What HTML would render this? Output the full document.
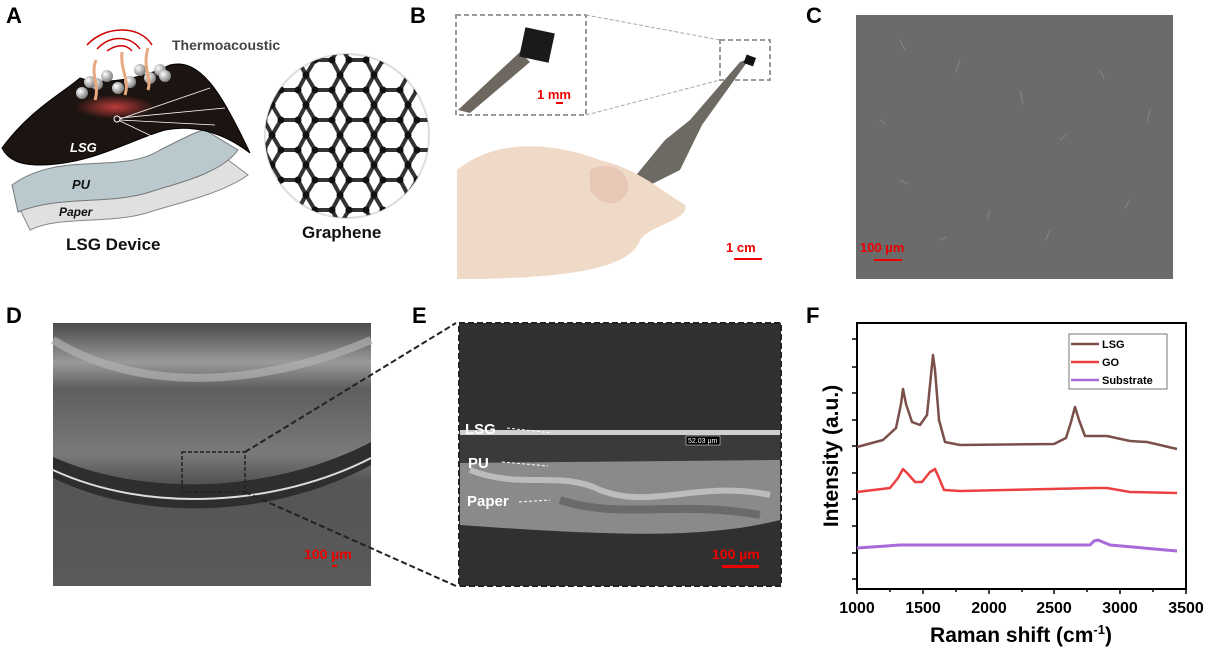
<!DOCTYPE html>
<html><head><meta charset="utf-8"><style>
html,body{margin:0;padding:0;background:#fff;}
svg{display:block;font-family:"Liberation Sans",Arial,sans-serif;}
</style></head><body>
<svg width="1208" height="651" viewBox="0 0 1208 651" xmlns="http://www.w3.org/2000/svg">
<defs>
<radialGradient id="glow" cx="0.5" cy="0.5" r="0.5"><stop offset="0" stop-color="#d04040" stop-opacity="0.9"/><stop offset="1" stop-color="#d04040" stop-opacity="0"/></radialGradient>
<radialGradient id="ball" cx="0.35" cy="0.35" r="0.7"><stop offset="0" stop-color="#fff"/><stop offset="1" stop-color="#777"/></radialGradient>
<linearGradient id="dg" x1="0" y1="0" x2="0" y2="1"><stop offset="0" stop-color="#4a4a4a"/><stop offset="0.15" stop-color="#9a9a9a"/><stop offset="0.25" stop-color="#5e5e5e"/><stop offset="0.5" stop-color="#7a7a7a"/><stop offset="0.6" stop-color="#555"/><stop offset="1" stop-color="#5a5a5a"/></linearGradient>
<pattern id="hex" width="34" height="30" patternUnits="userSpaceOnUse"><path d="M0,15 L9,0 L26,0 L34,15 L26,30 L9,30 Z" fill="none" stroke="#333" stroke-width="4"/><circle cx="9" cy="0" r="3.5" fill="#111"/><circle cx="26" cy="0" r="3.5" fill="#111"/><circle cx="0" cy="15" r="3.5" fill="#111"/><circle cx="34" cy="15" r="3.5" fill="#111"/><circle cx="9" cy="30" r="3.5" fill="#111"/><circle cx="26" cy="30" r="3.5" fill="#111"/></pattern>
<clipPath id="circ"><circle cx="347" cy="136" r="82"/></clipPath>
</defs>

<!-- Panel labels -->
<g font-weight="bold" font-size="22" fill="#000">
<text x="6" y="23">A</text><text x="410" y="23">B</text><text x="806" y="23">C</text>
<text x="6" y="323">D</text><text x="412" y="323">E</text><text x="806" y="323">F</text>
</g>

<!-- Panel A -->
<path d="M18,205 C60,170 120,195 160,175 C200,160 210,155 215,150 L248,175 C220,195 170,205 150,212 C110,225 60,215 30,230 Z" fill="#e0e0e0" stroke="#888"/>
<path d="M12,185 C60,150 120,175 160,150 C190,135 200,130 205,130 L238,150 C220,175 170,185 150,192 C110,205 60,195 18,212 Z" fill="#b9c9cd" stroke="#777"/>
<path d="M2,148 C30,110 60,95 80,78 C100,85 140,80 170,65 C200,58 220,90 250,153 C220,130 190,125 165,130 C130,140 90,165 40,165 C20,165 8,160 2,148 Z" fill="#1b1410" stroke="#000"/>
<ellipse cx="115" cy="107" rx="40" ry="12" fill="url(#glow)"/>
<circle cx="117" cy="119" r="3" fill="none" stroke="#fff"/>
<path d="M120,119 L210,88 M120,118 L225,108 M120,120 L215,125 M120,121 L160,140" stroke="#fff" stroke-width="0.8"/>
<g fill="url(#ball)"><circle cx="82" cy="93" r="6"/><circle cx="97" cy="84" r="6"/><circle cx="107" cy="76" r="6"/><circle cx="118" cy="88" r="6"/><circle cx="130" cy="82" r="6"/><circle cx="140" cy="70" r="6"/><circle cx="150" cy="78" r="6"/><circle cx="160" cy="70" r="6"/><circle cx="165" cy="76" r="6"/><circle cx="90" cy="82" r="6"/></g>
<g stroke="#e8a880" stroke-width="3" fill="none"><path d="M95,100 C100,85 90,75 96,60"/><path d="M125,95 C130,80 120,70 122,52"/><path d="M148,90 C152,78 142,68 148,48"/></g>
<g fill="none" stroke="#c00" stroke-width="1.5"><path d="M87,45 C105,25 140,25 152,45"/><path d="M97,49 C110,35 130,35 140,49"/><path d="M107,51 C117,44 126,44 132,51"/></g>
<text x="172" y="50" font-size="14" font-weight="bold" fill="#444">Thermoacoustic</text>
<text x="70" y="152" font-size="13" font-weight="bold" font-style="italic" fill="#fff">LSG</text>
<text x="72" y="189" font-size="13" font-weight="bold" font-style="italic" fill="#111">PU</text>
<text x="59" y="216" font-size="12" font-weight="bold" font-style="italic" fill="#111">Paper</text>
<text x="66" y="250" font-size="17" font-weight="bold" fill="#111">LSG Device</text>
<circle cx="347" cy="136" r="82" fill="#fff" stroke="#ddd" stroke-width="2"/>
<rect x="265" y="54" width="165" height="165" fill="url(#hex)" clip-path="url(#circ)"/>
<text x="302" y="238" font-size="17" font-weight="bold" fill="#111">Graphene</text>

<!-- Panel B -->
<rect x="456" y="15" width="130" height="100" fill="#fff" stroke="#999" stroke-width="2" stroke-dasharray="5,3"/>
<path d="M458,110 L520,52 L530,62 L470,113 Z" fill="#6e675f"/>
<rect x="522" y="30" width="30" height="30" fill="#1a1a1a" transform="rotate(12 537 45)"/>
<text x="537" y="99" font-size="13" font-weight="bold" fill="#e00">1 mm</text>
<rect x="556" y="102" width="7" height="2" fill="#e00"/>
<path d="M586,15 L720,40 M586,115 L720,80" stroke="#aaa" stroke-width="1" stroke-dasharray="4,2"/>
<rect x="720" y="40" width="50" height="40" fill="none" stroke="#999" stroke-width="2" stroke-dasharray="5,3"/>
<path d="M740,62 L750,58 L702,125 L680,170 L640,190 L628,185 L665,140 L690,120 Z" fill="#6d6a64"/>
<rect x="745" y="56" width="10" height="9" fill="#111" transform="rotate(20 750 60)"/>
<path d="M457,170 C500,135 560,145 600,160 C640,170 660,190 685,205 C690,220 650,225 640,240 C630,270 560,279 457,279 Z" fill="#efd9c7"/>
<path d="M590,170 C610,160 630,170 628,190 C620,210 600,205 590,190 Z" fill="#e8c7b7"/>
<text x="726" y="252" font-size="13" font-weight="bold" fill="#e00">1 cm</text>
<rect x="734" y="258" width="28" height="2" fill="#e00"/>

<!-- Panel C -->
<rect x="856" y="15" width="317" height="264" fill="#6b6b6b"/>
<g stroke="#9a9a9a" stroke-width="1" opacity="0.6" fill="none"><path d="M900,40 l5,10 M960,60 l-4,12 M1020,90 l3,14 M1060,140 l6,-5 M900,180 l8,4 M990,210 l-3,10 M1100,70 l4,9 M1130,200 l-5,8 M940,240 l6,-3 M1050,230 l-4,10 M880,120 l5,4 M1150,110 l-3,12"/></g>
<text x="860" y="252" font-size="13" font-weight="bold" fill="#e00">100 µm</text>
<rect x="874" y="259" width="28" height="2" fill="#e00"/>

<!-- Panel D -->
<rect x="53" y="323" width="318" height="263" fill="url(#dg)"/>
<path d="M53,340 C150,400 280,380 371,340" stroke="#b0b0b0" stroke-width="8" fill="none" opacity="0.7"/>
<path d="M53,457 C150,500 280,490 371,442 L371,465 C280,515 150,525 53,478 Z" fill="#2e2e2e"/>
<path d="M53,470 C150,515 280,505 371,458" stroke="#ddd" stroke-width="2" fill="none"/>
<rect x="182" y="452" width="63" height="40" fill="none" stroke="#222" stroke-width="1.5" stroke-dasharray="4,2"/>
<text x="304" y="559" font-size="14" font-weight="bold" fill="#e00">100 µm</text>
<rect x="332" y="565" width="5" height="2" fill="#e00"/>
<path d="M245,452 L456,323 M245,492 L456,586" stroke="#222" stroke-width="2" stroke-dasharray="6,3"/>

<!-- Panel E -->
<rect x="459" y="323" width="322" height="263" fill="#303030" stroke="#222" stroke-width="2" stroke-dasharray="6,3"/>
<rect x="460" y="430" width="320" height="5" fill="#cfcfcf"/>
<rect x="460" y="435" width="320" height="28" fill="#3a3a3a"/>
<path d="M460,463 L780,460 L780,520 C700,540 600,535 460,525 Z" fill="#8a8a8a"/>
<path d="M470,470 C520,490 560,470 600,490 C650,510 700,480 770,495" stroke="#ddd" stroke-width="6" fill="none" opacity="0.6"/>
<path d="M560,500 C620,520 680,500 760,515" stroke="#555" stroke-width="8" fill="none" opacity="0.6"/>
<g font-weight="bold" font-size="15" fill="#fff"><text x="465" y="434">LSG</text><text x="468" y="468">PU</text><text x="467" y="506">Paper</text></g>
<g stroke="#fff" stroke-width="1" stroke-dasharray="3,2"><path d="M507,428 L552,433 M502,462 L548,466 M519,502 L550,500"/></g>
<rect x="686" y="436" width="34" height="9" fill="#000" stroke="#fff" stroke-width="0.5"/>
<text x="688" y="443" font-size="7" fill="#fff">52.03 µm</text>
<text x="712" y="559" font-size="14" font-weight="bold" fill="#e00">100 µm</text>
<rect x="722" y="565" width="37" height="3" fill="#e00"/>

<!-- Panel F -->
<rect x="857" y="323" width="329" height="266" fill="none" stroke="#000" stroke-width="2"/>
<g stroke="#000" stroke-width="1.5">
<path d="M857,589 v5 M890,589 v3 M923,589 v5 M956,589 v3 M989,589 v5 M1022,589 v3 M1054,589 v5 M1087,589 v3 M1120,589 v5 M1153,589 v3 M1186,589 v5"/>
<path d="M857,339 h-5 M857,367 h-5 M857,393 h-5 M857,420 h-5 M857,446 h-5 M857,473 h-5 M857,499 h-5 M857,526 h-5 M857,553 h-5 M857,579 h-5"/>
</g>
<g font-size="16" font-weight="bold" text-anchor="middle"><text x="857" y="613">1000</text><text x="923" y="613">1500</text><text x="989" y="613">2000</text><text x="1054" y="613">2500</text><text x="1120" y="613">3000</text><text x="1186" y="613">3500</text></g>
<text x="1021" y="642" font-size="21" font-weight="bold" text-anchor="middle">Raman shift (cm<tspan font-size="13" dy="-8">-1</tspan><tspan dy="8">)</tspan></text>
<text transform="translate(838,456) rotate(-90)" font-size="21" font-weight="bold" text-anchor="middle">Intensity (a.u.)</text>
<g fill="none" stroke-width="2.5" stroke-linejoin="round">
<path stroke="#7b4f4a" d="M857,447 L883,440 L896,428 L901,404 L903,389 L906,404 L912,422 L920,425 L927,415 L931,375 L933,355 L935,370 L939,420 L945,442 L960,445 L1054,444 L1066,438 L1071,422 L1075,407 L1079,420 L1085,436 L1107,436 L1130,441 L1147,442 L1177,449"/>
<path stroke="#ec4040" d="M857,492 L890,488 L898,478 L903,469 L908,474 L915,482 L922,482 L930,472 L935,469 L939,478 L944,490 L960,491 L1094,488 L1107,488 L1130,492 L1177,493"/>
<path stroke="#a86ad8" stroke-width="3" d="M857,548 L900,545 L1090,545 L1094,541 L1098,540 L1110,545 L1177,551"/>
</g>
<rect x="1069" y="334" width="98" height="55" fill="#fff" stroke="#555" stroke-width="0.8"/>
<path d="M1071,344 h28" stroke="#7b4f4a" stroke-width="2.5"/><path d="M1071,362 h28" stroke="#ec4040" stroke-width="2.5"/><path d="M1071,380 h28" stroke="#a86ad8" stroke-width="2.5"/>
<g font-size="11" font-weight="bold"><text x="1102" y="348">LSG</text><text x="1102" y="366">GO</text><text x="1102" y="384">Substrate</text></g>
</svg>
</body></html>
